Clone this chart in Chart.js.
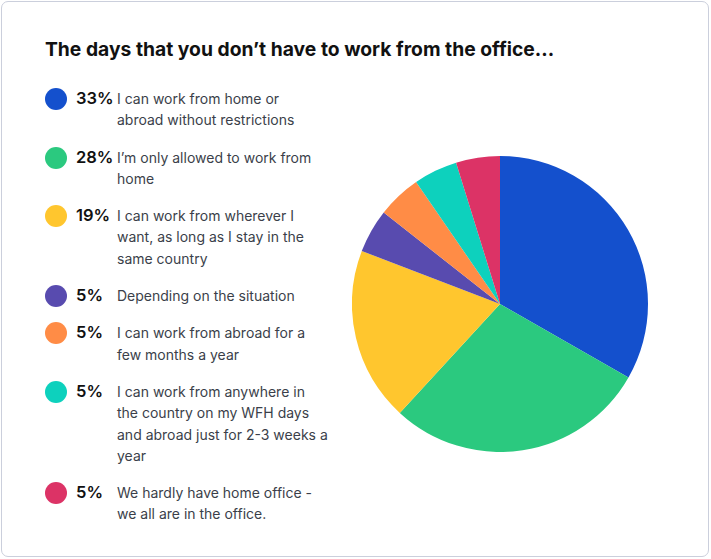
<!DOCTYPE html>
<html>
<head>
<meta charset="utf-8">
<script src="https://cdn.jsdelivr.net/npm/chart.js@4"></script>
<style>
  html, body { margin: 0; padding: 0; background: #fff; }
  body { width: 711px; height: 559px; position: relative; overflow: hidden; font-family: Inter, "Noto Sans", sans-serif; }
  .card { position: absolute; left: 1px; top: 1px; width: 706px; height: 554px; border: 1px solid #cbcfdc; border-radius: 7px; }
  .title { position: absolute; left: 45px; top: 37px; font-size: 19.3px; font-weight: 700; color: #111; letter-spacing: 0px; white-space: nowrap; }
  .legend { position: absolute; left: 45px; top: 88px; width: 300px; }
  .item { position: relative; margin-bottom: 16px; }
  .dot { position: absolute; left: 0; top: 0; width: 22px; height: 22px; border-radius: 50%; }
  .pct { position: absolute; left: 31px; top: -1px; font-size: 16.5px; font-weight: 600; color: #111; line-height: 22px; }
  .lbl { margin-left: 72px; font-size: 14px; color: #3b3f4a; line-height: 21.3px; }
  #wrap { position: absolute; left: 352px; top: 156px; width: 296px; height: 296px; }
</style>
</head>
<body>
<div class="card"></div>
<div class="title" id="title"></div>
<div class="legend" id="legend"></div>
<div id="wrap"><canvas id="c" width="296" height="296"></canvas></div>
<script>
const chartTitle = "The days that you don’t have to work from the office...";
const categories = [
  ["I can work from home or", "abroad without restrictions"],
  ["I’m only allowed to work from", "home"],
  ["I can work from wherever I", "want, as long as I stay in the", "same country"],
  ["Depending on the situation"],
  ["I can work from abroad for a", "few months a year"],
  ["I can work from anywhere in", "the country on my WFH days", "and abroad just for 2-3 weeks a", "year"],
  ["We hardly have home office -", "we all are in the office."]
];
const percentLabels = ["33%", "28%", "19%", "5%", "5%", "5%", "5%"];
const values = [33.3, 28.6, 19.0, 4.8, 4.8, 4.8, 4.8];
const colors = ["#1450cd", "#2bc97f", "#ffc62e", "#584baf", "#ff8c46", "#0dd1bd", "#dc3366"];

document.getElementById('title').textContent = chartTitle;
const legend = document.getElementById('legend');
categories.forEach((lines, i) => {
  const item = document.createElement('div');
  item.className = 'item';
  const dot = document.createElement('div');
  dot.className = 'dot';
  dot.style.background = colors[i];
  const pct = document.createElement('div');
  pct.className = 'pct';
  pct.textContent = percentLabels[i];
  const lbl = document.createElement('div');
  lbl.className = 'lbl';
  lines.forEach((t, k) => {
    if (k) lbl.appendChild(document.createElement('br'));
    lbl.appendChild(document.createTextNode(t));
  });
  item.appendChild(dot); item.appendChild(pct); item.appendChild(lbl);
  legend.appendChild(item);
});

new Chart(document.getElementById('c'), {
  type: 'pie',
  data: {
    labels: categories.map(l => l.join(' ')),
    datasets: [{ data: values, backgroundColor: colors, borderWidth: 0 }]
  },
  options: {
    responsive: false,
    animation: false,
    layout: { padding: 0 },
    plugins: { legend: { display: false }, tooltip: { enabled: false } }
  }
});
</script>
</body>
</html>
